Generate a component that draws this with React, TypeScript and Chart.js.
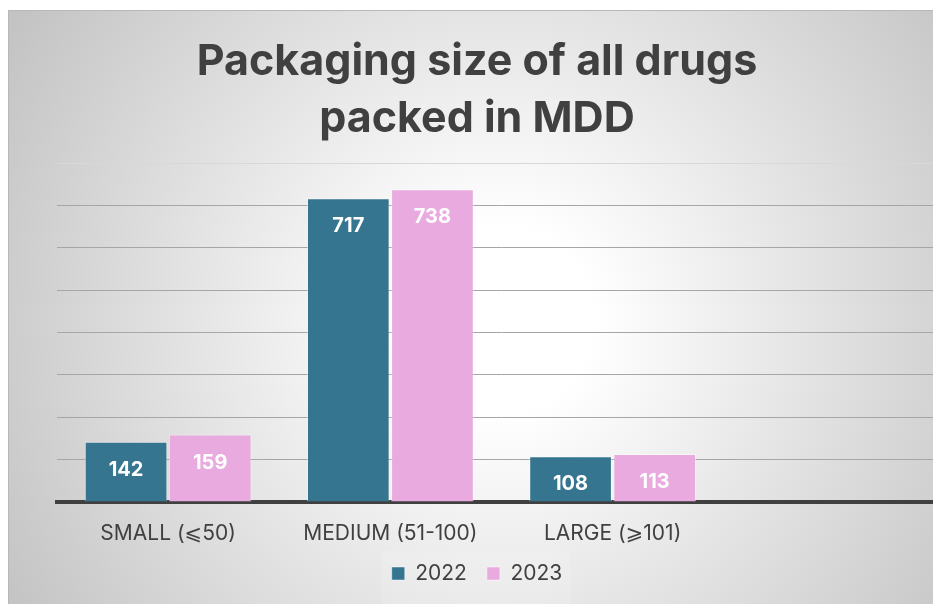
import React, { useEffect, useRef } from 'react';
import { Chart, registerables } from 'chart.js';

Chart.register(...registerables);

// Package size groups (the trailing blank slot keeps the right-hand space of the plot)
const categories = ['SMALL (⩽50)', 'MEDIUM (51-100)', 'LARGE (⩾101)', ''];
const years = ['2022', '2023'];
const counts2022 = [142, 717, 108, null];
const counts2023 = [159, 738, 113, null];
const yMax = 800;
const yStep = 100;

const BAR_BLUE = '#36758f';
const BAR_PINK = '#e8aadf';
const TEXT = '#404040';
const FONT = "Inter, 'DejaVu Sans', sans-serif";

// Soft radial shading behind the whole chart, thin frame, and a pale panel under the legend
const backdrop = {
  id: 'backdrop',
  beforeDraw(chart: any) {
    const { ctx, width, height } = chart;
    ctx.save();
    const g = ctx.createRadialGradient(492, 310, 0, 492, 310, 620);
    g.addColorStop(0, '#ffffff');
    g.addColorStop(0.15, '#ffffff');
    g.addColorStop(1, '#bdbdbd');
    ctx.fillStyle = g;
    ctx.fillRect(0, 0, width, height);

    ctx.strokeStyle = '#b8b8b8';
    ctx.lineWidth = 1;
    ctx.beginPath();
    ctx.moveTo(0.5, height);
    ctx.lineTo(0.5, 0.5);
    ctx.lineTo(width, 0.5);
    ctx.stroke();

    const hits = chart.legend?.legendHitBoxes;
    if (hits && hits.length) {
      const first = hits[0];
      const last = hits[hits.length - 1];
      const left = first.left - 10;
      const right = last.left + last.width + 8;
      const top = first.top - 12;
      ctx.fillStyle = 'rgba(255,255,255,0.14)';
      ctx.fillRect(left, top, right - left, height - top);
    }
    ctx.restore();
  },
};

// Value printed inside the top of each bar
const valueLabels = {
  id: 'valueLabels',
  afterDatasetsDraw(chart: any) {
    const { ctx } = chart;
    ctx.save();
    ctx.font = `bold 20px ${FONT}`;
    ctx.fillStyle = '#ffffff';
    ctx.textAlign = 'center';
    ctx.textBaseline = 'middle';
    chart.data.datasets.forEach((ds: any, i: number) => {
      const meta = chart.getDatasetMeta(i);
      meta.data.forEach((bar: any, j: number) => {
        const v = ds.data[j];
        if (v == null) return;
        ctx.fillText(String(v), bar.x, bar.y + 28);
      });
    });
    ctx.restore();
  },
};

export default function App() {
  const canvasRef = useRef<HTMLCanvasElement | null>(null);

  useEffect(() => {
    if (!canvasRef.current) return;
    const chart = new Chart(canvasRef.current, {
      type: 'bar',
      data: {
        labels: categories,
        datasets: [
          {
            label: years[0],
            data: counts2022,
            backgroundColor: BAR_BLUE,
            borderColor: 'rgba(255,255,255,0.45)',
            borderWidth: 1,
          },
          {
            label: years[1],
            data: counts2023,
            backgroundColor: BAR_PINK,
            borderColor: 'rgba(255,255,255,0.45)',
            borderWidth: 1,
          },
        ],
      },
      options: {
        responsive: false,
        animation: false,
        categoryPercentage: 0.757,
        barPercentage: 0.983,
        layout: { padding: { left: 0, right: 0, top: 0, bottom: 10 } },
        plugins: {
          title: {
            display: true,
            text: ['Packaging size of all drugs', 'packed in MDD'],
            color: TEXT,
            font: { family: FONT, size: 43, weight: 'bold', lineHeight: 57 / 43 },
            padding: { top: 24, bottom: 15 },
          },
          legend: {
            position: 'bottom',
            labels: {
              boxWidth: 13,
              boxHeight: 13,
              color: TEXT,
              font: { family: FONT, size: 21 },
              padding: 20,
            },
          },
          tooltip: { enabled: false },
        },
        scales: {
          x: {
            grid: { display: false, drawTicks: false },
            border: { display: true, color: '#404040', width: 4 },
            ticks: {
              color: TEXT,
              font: { family: FONT, size: 21 },
              padding: 19,
              maxRotation: 0,
              autoSkip: false,
            },
            afterFit: (s: any) => {
              s.height = 41;
            },
          },
          y: {
            min: 0,
            max: yMax,
            ticks: { stepSize: yStep, display: false },
            border: { display: false },
            grid: {
              drawTicks: false,
              lineWidth: 1,
              color: (c: any) => (c.tick && c.tick.value === yMax ? '#d8d8d8' : '#a6a6a6'),
            },
            afterFit: (s: any) => {
              s.width = 49;
            },
          },
        },
      } as any,
      plugins: [backdrop, valueLabels],
    });
    return () => chart.destroy();
  }, []);

  return (
    <div style={{ position: 'fixed', left: 0, top: 0, width: '100vw', height: '100vh', overflow: 'hidden', background: '#ffffff' }}>
      <div style={{ position: 'absolute', left: 8, top: 10 }}>
        <canvas ref={canvasRef} width={938} height={594} style={{ display: 'block' }} />
      </div>
    </div>
  );
}
